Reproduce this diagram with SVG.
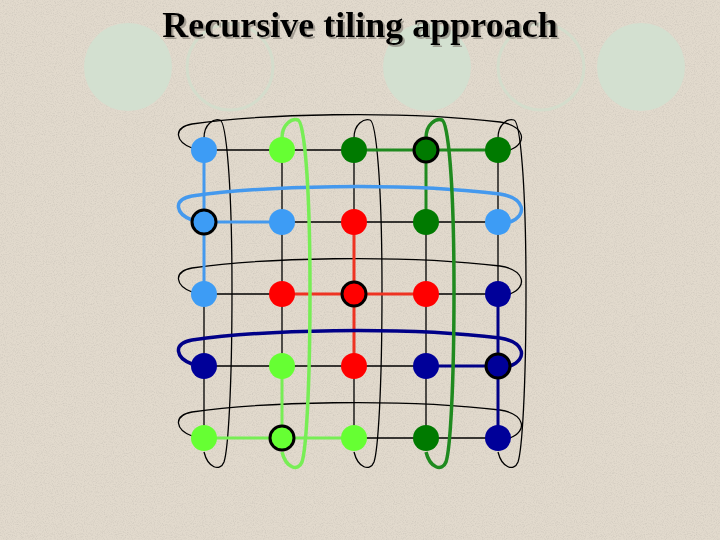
<svg xmlns="http://www.w3.org/2000/svg" xmlns:xlink="http://www.w3.org/1999/xlink" width="720" height="540" viewBox="0 0 720 540">
<style>
.title{font-family:"Liberation Serif","Times New Roman",serif;font-weight:bold;font-size:36px;text-anchor:middle}
.deco{fill:#d3e0d0}
.ring{fill:none;stroke:#d4ddcc;stroke-width:3}
.grid{stroke:#000;stroke-width:1.3;fill:none}
.loopk{stroke:#000;stroke-width:1.3;fill:none}
.seg{stroke-width:3;fill:none}
.lb{fill:#3d9cf5}
.lg{fill:#66ff33}
.dg{fill:#007a00}
.rd{fill:#ff0000}
.nv{fill:#000099}
.bold{stroke:#000;stroke-width:3}
</style>
<defs>
<path id="hloop" d="M192,-2 C176,-8 172,-22 192,-26 C260,-36 400,-40 500,-28 C525,-24 528,-7 510,0"/>
<path id="vloop" d="M0,138 C0,124 10,118 16,120 C22,122 28,180 28,290 C28,390 24,450 20,462 C16,472 4,468 0,452"/>
<filter id="noise" x="0" y="0" width="100%" height="100%">
<feTurbulence type="fractalNoise" baseFrequency="0.9" numOctaves="2" seed="3"/>
<feColorMatrix type="matrix" values="0 0 0 0 0.45  0 0 0 0 0.42  0 0 0 0 0.38  0 0 0 -2.2 1.25"/>
</filter>
<filter id="shadow" x="-5%" y="-20%" width="110%" height="150%">
<feDropShadow dx="2" dy="2" stdDeviation="0.6" flood-color="#8a857c" flood-opacity="0.7"/>
</filter>
</defs>
<rect x="0" y="0" width="720" height="540" fill="#e2dacd"/>
<rect x="0" y="0" width="720" height="540" filter="url(#noise)" opacity="0.35"/>
<g id="decoration">
<circle class="deco" cx="128" cy="67" r="44"/>
<circle class="ring" cx="230" cy="67" r="43"/>
<circle class="deco" cx="427" cy="67" r="44"/>
<circle class="ring" cx="541" cy="67" r="43"/>
<circle class="deco" cx="641" cy="67" r="44"/>
</g>
<g id="title">
<text class="title" x="360" y="37" fill="#000" filter="url(#shadow)">Recursive tiling approach</text>
</g>
<g id="connectors">
<g class="grid">
<path d="M204,150H498M204,222H498M204,294H498M204,366H498M204,438H498"/>
<path d="M204,150V438M282,150V438M354,150V438M426,150V438M498,150V438"/>
</g>
<g class="loopk">
<use xlink:href="#hloop" transform="translate(0,150)"/>
<use xlink:href="#hloop" transform="translate(0,294)"/>
<use xlink:href="#hloop" transform="translate(0,438)"/>
<use xlink:href="#vloop" transform="translate(204,0)"/>
<use xlink:href="#vloop" transform="translate(354,0)"/>
<use xlink:href="#vloop" transform="translate(498,0)"/>
</g>
<path class="seg" stroke="#4499ee" d="M204,150V294M204,222H282"/>
<path class="seg" stroke="#1f8a1f" d="M354,150H498M426,150V222"/>
<path class="seg" stroke="#ee3322" d="M354,222V366M282,294H426"/>
<path class="seg" stroke="#000088" d="M498,294V438M426,366H498"/>
<path class="seg" stroke="#77ee55" d="M282,366V438M204,438H354"/>
<use xlink:href="#hloop" transform="translate(0,222)" fill="none" stroke="#4499ee" stroke-width="3.5"/>
<use xlink:href="#hloop" transform="translate(0,366)" fill="none" stroke="#000088" stroke-width="3.5"/>
<use xlink:href="#vloop" transform="translate(282,0)" fill="none" stroke="#77ee55" stroke-width="3.5"/>
<use xlink:href="#vloop" transform="translate(426,0)" fill="none" stroke="#1f8a1f" stroke-width="3.5"/>
</g>
<g id="n00"><circle class="lb" cx="204" cy="150" r="13"/></g>
<g id="n01"><circle class="lg" cx="282" cy="150" r="13"/></g>
<g id="n02"><circle class="dg" cx="354" cy="150" r="13"/></g>
<g id="n03"><circle class="dg bold" cx="426" cy="150" r="12"/></g>
<g id="n04"><circle class="dg" cx="498" cy="150" r="13"/></g>
<g id="n10"><circle class="lb bold" cx="204" cy="222" r="12"/></g>
<g id="n11"><circle class="lb" cx="282" cy="222" r="13"/></g>
<g id="n12"><circle class="rd" cx="354" cy="222" r="13"/></g>
<g id="n13"><circle class="dg" cx="426" cy="222" r="13"/></g>
<g id="n14"><circle class="lb" cx="498" cy="222" r="13"/></g>
<g id="n20"><circle class="lb" cx="204" cy="294" r="13"/></g>
<g id="n21"><circle class="rd" cx="282" cy="294" r="13"/></g>
<g id="n22"><circle class="rd bold" cx="354" cy="294" r="12"/></g>
<g id="n23"><circle class="rd" cx="426" cy="294" r="13"/></g>
<g id="n24"><circle class="nv" cx="498" cy="294" r="13"/></g>
<g id="n30"><circle class="nv" cx="204" cy="366" r="13"/></g>
<g id="n31"><circle class="lg" cx="282" cy="366" r="13"/></g>
<g id="n32"><circle class="rd" cx="354" cy="366" r="13"/></g>
<g id="n33"><circle class="nv" cx="426" cy="366" r="13"/></g>
<g id="n34"><circle class="nv bold" cx="498" cy="366" r="12"/></g>
<g id="n40"><circle class="lg" cx="204" cy="438" r="13"/></g>
<g id="n41"><circle class="lg bold" cx="282" cy="438" r="12"/></g>
<g id="n42"><circle class="lg" cx="354" cy="438" r="13"/></g>
<g id="n43"><circle class="dg" cx="426" cy="438" r="13"/></g>
<g id="n44"><circle class="nv" cx="498" cy="438" r="13"/></g>
</svg>
